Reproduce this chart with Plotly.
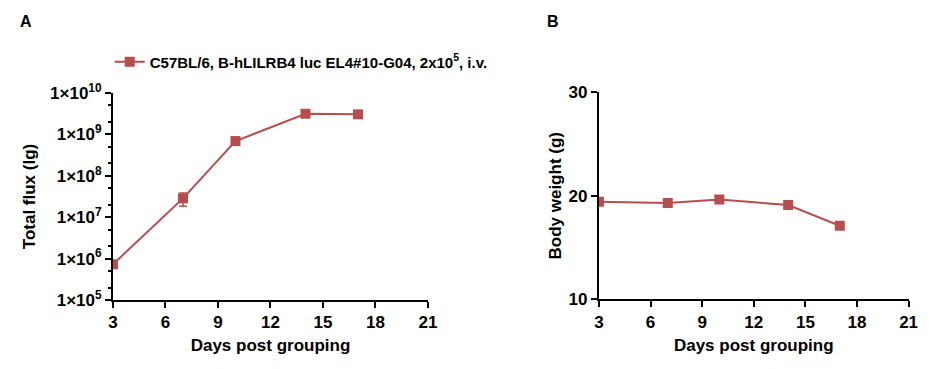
import plotly.graph_objects as go

days = [3, 7, 10, 14, 17]
flux = [7.3e5, 2.85e7, 6.9e8, 3.15e9, 3.05e9]
flux_err = [1.0e5, 1.0e7, 8.0e7, 2.5e8, 2.0e8]
weight = [19.42, 19.3, 19.65, 19.1, 17.1]
weight_err = [0.2, 0.15, 0.3, 0.3, 0.25]

series_name = "C57BL/6, B-hLILRB4 luc EL4#10-G04, 2x10<sup>5</sup>, i.v."
xticks = [3, 6, 9, 12, 15, 18, 21]
flux_tickvals = [1e5, 1e6, 1e7, 1e8, 1e9, 1e10]
flux_ticktext = ["1×10<sup>%d</sup>" % e for e in range(5, 11)]
weight_ticks = [10, 20, 30]

color = "#B84D4D"
font_family = "Liberation Sans, Arial, sans-serif"

fig = go.Figure()
fig.add_trace(go.Scatter(
    x=days, y=flux, mode="lines+markers", name=series_name,
    line=dict(color=color, width=2),
    marker=dict(symbol="square", size=10, color=color),
    error_y=dict(type="data", array=flux_err, color=color, thickness=1.5, width=4),
    xaxis="x", yaxis="y", showlegend=True,
))
fig.add_trace(go.Scatter(
    x=days, y=weight, mode="lines+markers", name=series_name,
    line=dict(color=color, width=2),
    marker=dict(symbol="square", size=10, color=color),
    error_y=dict(type="data", array=weight_err, color=color, thickness=1.5, width=4),
    xaxis="x2", yaxis="y2", showlegend=False,
))

axis_common = dict(
    showline=True, linecolor="black", linewidth=2,
    ticks="outside", ticklen=6, tickwidth=2, tickcolor="black",
    showgrid=False, zeroline=False, automargin=False,
    tickfont=dict(family=font_family, size=17, color="black", weight="bold"),
    title_font=dict(family=font_family, size=17, color="black", weight="bold"),
)

fig.update_layout(
    width=930, height=369,
    margin=dict(l=0, r=0, t=0, b=0, autoexpand=False),
    paper_bgcolor="white", plot_bgcolor="white",
    font=dict(family=font_family, color="black"),
    xaxis=dict(domain=[0.1215, 0.4602], range=[3, 21], tickvals=xticks,
               title=dict(text="Days post grouping", standoff=8), anchor="y", **axis_common),
    yaxis=dict(domain=[0.187, 0.748], type="log", range=[5, 10],
               tickvals=flux_tickvals, ticktext=flux_ticktext,
               minor=dict(ticks="outside", ticklen=3, tickwidth=1.5, tickcolor="black", dtick="D2", showgrid=False),
               title=dict(text="Total flux (lg)", standoff=10), anchor="x", **axis_common),
    xaxis2=dict(domain=[0.644, 0.977], range=[3, 21], tickvals=xticks,
                title=dict(text="Days post grouping", standoff=8), anchor="y2", **axis_common),
    yaxis2=dict(domain=[0.189, 0.750], range=[10, 30], tickvals=weight_ticks,
                title=dict(text="Body weight (g)", standoff=3), anchor="x2", **axis_common),
    legend=dict(x=0.118, y=1 - 62 / 369, xanchor="left", yanchor="middle",
                font=dict(family=font_family, size=15, color="black", weight="bold"),
                bgcolor="rgba(0,0,0,0)", itemwidth=30),
    annotations=[
        dict(text="<b>A</b>", x=18 / 930, y=1 - 22 / 369, xref="paper", yref="paper",
             showarrow=False, xanchor="left", yanchor="middle", font=dict(size=16, family=font_family)),
        dict(text="<b>B</b>", x=545 / 930, y=1 - 22 / 369, xref="paper", yref="paper",
             showarrow=False, xanchor="left", yanchor="middle", font=dict(size=16, family=font_family)),
    ],
)

fig.write_html("out.html", config={"displayModeBar": False},
               post_script="document.body.style.margin='0';document.body.style.overflow='hidden';")
